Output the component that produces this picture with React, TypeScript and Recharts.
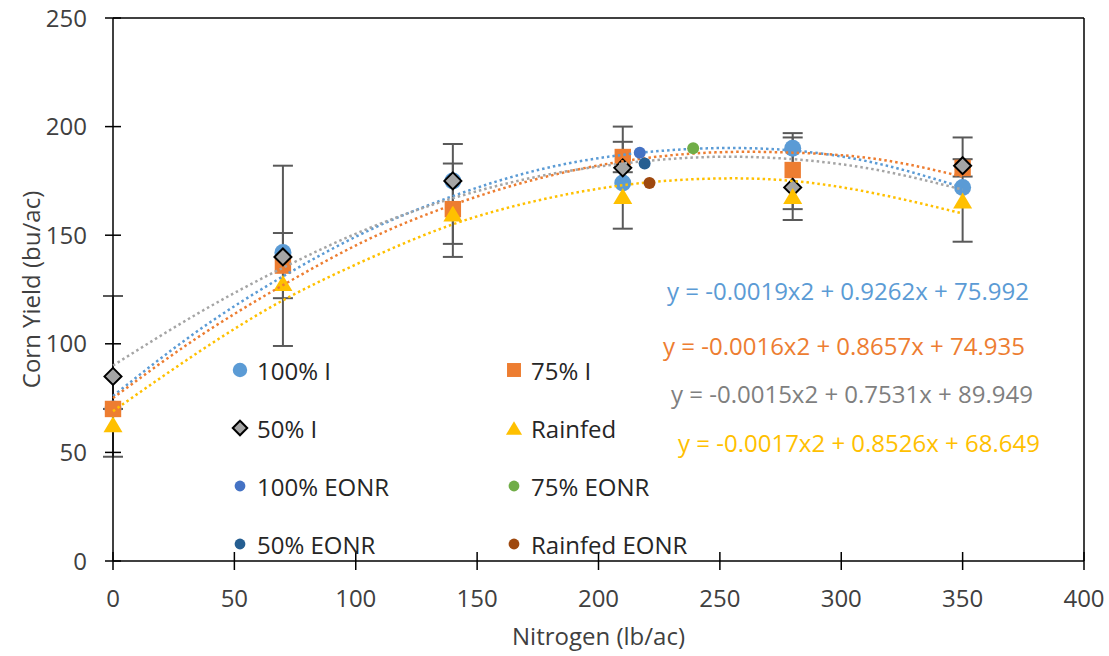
import React from 'react';
import {
  ComposedChart,
  Scatter,
  XAxis,
  YAxis,
  ErrorBar,
  ReferenceLine,
} from 'recharts';

const FONT = '"Open Sans", sans-serif';

const nitrogenRates = [0, 70, 140, 210, 280, 350];
const yield100I = [70, 142, 175, 174, 190, 172];
const yield75I = [70, 136, 162, 186, 180, 181];
const yield50I = [85, 140, 175, 181, 172, 182];
const yieldRainfed = [63, 128, 160, 168, 168, 166];

// error bar ends (bu/ac)
const wideBarLow = [48, 99, 140, 153, 157, 147];
const wideBarHigh = [122, 182, 192, 200, 197, 195];
const narrowBarLow = [70, 121, 146, 179, 162, 177];
const narrowBarHigh = [70, 151, 183, 193, 195, 185];

// economic optimum N rates
const eonrNames = ['100% EONR', '75% EONR', '50% EONR', 'Rainfed EONR'];
const eonrRates = [217, 239, 219, 221];
const eonrYields = [188, 190, 183, 174];
const eonrColors = ['#4472C4', '#70AD47', '#255E91', '#9E480E'];

// polynomial trendlines, sampled off the figure
const trendRates = [0, 35, 70, 105, 140, 175, 210, 245, 280, 315, 350];
const trend100I = [76, 106, 131, 152, 168, 180, 187, 190, 189, 183, 172];
const trend75I = [75, 103, 127, 148, 164, 176, 184, 188, 188, 185, 177];
const trend50I = [90, 114, 135, 153, 167, 177, 183, 186, 185, 180, 171];
const trendRainfed = [69, 96, 120, 139, 155, 166, 173, 176, 175, 169, 160];

const equationTexts = [
  'y = -0.0019x2 + 0.9262x + 75.992',
  'y = -0.0016x2 + 0.8657x + 74.935',
  'y = -0.0015x2 + 0.7531x + 89.949',
  'y = -0.0017x2 + 0.8526x + 68.649',
];

const xTicks = [0, 50, 100, 150, 200, 250, 300, 350, 400];
const yTicks = [0, 50, 100, 150, 200, 250];

const BLUE = '#5B9BD5';
const ORANGE = '#ED7D31';
const GRAY = '#A5A5A5';
const GOLD = '#FFC000';

function toPoints(xs: number[], ys: number[]) {
  return xs.map((x, i) => ({ x, y: ys[i] }));
}

function withBars(ys: number[], lows: number[], highs: number[]) {
  return nitrogenRates.map((x, i) => ({
    x,
    y: ys[i],
    err: [ys[i] - lows[i], highs[i] - ys[i]],
  }));
}

const data100I = withBars(yield100I, wideBarLow, wideBarHigh);
const data75I = withBars(yield75I, narrowBarLow, narrowBarHigh);
const data50I = toPoints(nitrogenRates, yield50I);
const dataRainfed = toPoints(nitrogenRates, yieldRainfed);

type Shape = 'circle' | 'square' | 'diamond' | 'triangle' | 'dot';

function Marker({ kind, cx, cy, color, scale = 1 }: { kind: Shape; cx: number; cy: number; color: string; scale?: number }) {
  if (kind === 'circle') return <circle cx={cx} cy={cy} r={8.5 * scale} fill={color} />;
  if (kind === 'dot') return <circle cx={cx} cy={cy} r={6 * scale} fill={color} />;
  if (kind === 'square') {
    const h = 8.2 * scale;
    return <rect x={cx - h} y={cy - h} width={h * 2} height={h * 2} fill={color} />;
  }
  if (kind === 'diamond') {
    const h = 8.5 * scale;
    return (
      <polygon
        points={`${cx},${cy - h} ${cx + h},${cy} ${cx},${cy + h} ${cx - h},${cy}`}
        fill={color}
        stroke="#000"
        strokeWidth={2}
      />
    );
  }
  const w = 9.5 * scale;
  const t = 8 * scale;
  return <polygon points={`${cx},${cy - t} ${cx + w},${cy + t} ${cx - w},${cy + t}`} fill={color} />;
}

const legendItems: { name: string; kind: Shape; color: string }[] = [
  { name: '100% I', kind: 'circle', color: BLUE },
  { name: '75% I', kind: 'square', color: ORANGE },
  { name: '50% I', kind: 'diamond', color: GRAY },
  { name: 'Rainfed', kind: 'triangle', color: GOLD },
  ...eonrNames.map((name, i) => ({ name, kind: 'dot' as Shape, color: eonrColors[i] })),
];

function LegendBox() {
  return (
    <div
      style={{
        position: 'absolute',
        left: 228,
        top: 341,
        display: 'grid',
        gridTemplateColumns: '274px 274px',
        gridAutoRows: '58px',
        fontFamily: FONT,
        fontSize: 24,
        color: '#262626',
      }}
    >
      {legendItems.map((it) => (
        <div key={it.name} style={{ display: 'flex', alignItems: 'center' }}>
          <svg width={24} height={24} style={{ marginRight: 5 }}>
            <Marker kind={it.kind} cx={12} cy={12} color={it.color} scale={it.kind === 'dot' ? 0.9 : 0.85} />
          </svg>
          <span>{it.name}</span>
        </div>
      ))}
    </div>
  );
}

function XTick({ x, y, payload }: any) {
  return (
    <g>
      <line x1={x} x2={x} y1={y - 9} y2={y + 9} stroke="#000" strokeWidth={1.5} />
      <text x={x} y={y + 46} textAnchor="middle" fontFamily={FONT} fontSize={24} fill="#404040">
        {payload.value}
      </text>
    </g>
  );
}

function YTick({ x, y, payload }: any) {
  return (
    <g>
      <line x1={x - 8} x2={x + 8} y1={y} y2={y} stroke="#000" strokeWidth={1.5} />
      <text x={x - 26} y={y + 8.5} textAnchor="end" fontFamily={FONT} fontSize={24} fill="#404040">
        {payload.value}
      </text>
    </g>
  );
}

function YTitle({ viewBox }: any) {
  const cx = viewBox.x + 30;
  const cy = viewBox.y + viewBox.height / 2;
  return (
    <text
      x={cx}
      y={cy}
      transform={`rotate(-90 ${cx} ${cy})`}
      textAnchor="middle"
      dominantBaseline="central"
      fontFamily={FONT}
      fontSize={24}
      fill="#404040"
    >
      Corn Yield (bu/ac)
    </text>
  );
}

function XTitle({ viewBox }: any) {
  return (
    <text
      x={viewBox.x + viewBox.width / 2}
      y={viewBox.y + 84}
      textAnchor="middle"
      fontFamily={FONT}
      fontSize={24}
      fill="#404040"
    >
      Nitrogen (lb/ac)
    </text>
  );
}

const dotted = { strokeWidth: 2.5, strokeDasharray: '2.5 3', fill: 'none' };
const noShape = () => <g />;

export default function App() {
  const equationStyle = [
    { left: 667, base: 300, color: BLUE },
    { left: 663, base: 355, color: ORANGE },
    { left: 671, base: 403, color: '#7F7F7F' },
    { left: 678, base: 452, color: GOLD },
  ];
  return (
    <div style={{ position: 'absolute', left: 0, top: 0, width: 1109, height: 656, background: '#fff' }}>
      <ComposedChart width={1109} height={656} margin={{ top: 18, right: 25, bottom: 0, left: 0 }}>
        <XAxis
          type="number"
          dataKey="x"
          domain={[0, 400]}
          ticks={xTicks}
          height={95}
          tickSize={0}
          tickMargin={0}
          tickLine={false}
          tick={<XTick />}
          axisLine={{ stroke: '#000', strokeWidth: 1.5 }}
          label={<XTitle />}
        />
        <YAxis
          type="number"
          dataKey="y"
          domain={[0, 250]}
          ticks={yTicks}
          width={113}
          tickSize={0}
          tickMargin={0}
          tickLine={false}
          tick={<YTick />}
          axisLine={{ stroke: '#000', strokeWidth: 1.5 }}
          label={<YTitle />}
        />
        <ReferenceLine y={250} stroke="#000" strokeWidth={1.5} />
        <ReferenceLine x={400} stroke="#000" strokeWidth={1.5} />

        <Scatter
          name="100% I"
          data={data100I}
          isAnimationActive={false}
          shape={(p: any) => <Marker kind="circle" cx={p.cx} cy={p.cy} color={BLUE} />}
        >
          <ErrorBar dataKey="err" direction="y" width={10} stroke="#595959" strokeWidth={2} />
        </Scatter>
        <Scatter
          name="75% I"
          data={data75I}
          isAnimationActive={false}
          shape={(p: any) => <Marker kind="square" cx={p.cx} cy={p.cy} color={ORANGE} />}
        >
          <ErrorBar dataKey="err" direction="y" width={10} stroke="#595959" strokeWidth={2} />
        </Scatter>
        <Scatter
          name="50% I"
          data={data50I}
          isAnimationActive={false}
          shape={(p: any) => <Marker kind="diamond" cx={p.cx} cy={p.cy} color={GRAY} />}
        />
        <Scatter
          name="Rainfed"
          data={dataRainfed}
          isAnimationActive={false}
          shape={(p: any) => <Marker kind="triangle" cx={p.cx} cy={p.cy} color={GOLD} />}
        />

        <Scatter data={toPoints(trendRates, trend100I)} legendType="none" isAnimationActive={false}
          line={{ stroke: BLUE, ...dotted }} lineJointType="natural" shape={noShape} />
        <Scatter data={toPoints(trendRates, trend75I)} legendType="none" isAnimationActive={false}
          line={{ stroke: ORANGE, ...dotted }} lineJointType="natural" shape={noShape} />
        <Scatter data={toPoints(trendRates, trend50I)} legendType="none" isAnimationActive={false}
          line={{ stroke: GRAY, ...dotted }} lineJointType="natural" shape={noShape} />
        <Scatter data={toPoints(trendRates, trendRainfed)} legendType="none" isAnimationActive={false}
          line={{ stroke: GOLD, ...dotted }} lineJointType="natural" shape={noShape} />

        {eonrNames.map((name, i) => (
          <Scatter
            key={name}
            name={name}
            data={[{ x: eonrRates[i], y: eonrYields[i] }]}
            isAnimationActive={false}
            shape={(p: any) => <Marker kind="dot" cx={p.cx} cy={p.cy} color={eonrColors[i]} />}
          />
        ))}
      </ComposedChart>
      <LegendBox />
      <svg
        width={1109}
        height={656}
        style={{ position: 'absolute', left: 0, top: 0, pointerEvents: 'none' }}
      >
        {equationTexts.map((t, i) => (
          <text
            key={t}
            x={equationStyle[i].left}
            y={equationStyle[i].base}
            fontFamily={FONT}
            fontSize={24}
            fill={equationStyle[i].color}
          >
            {t}
          </text>
        ))}
      </svg>
    </div>
  );
}
